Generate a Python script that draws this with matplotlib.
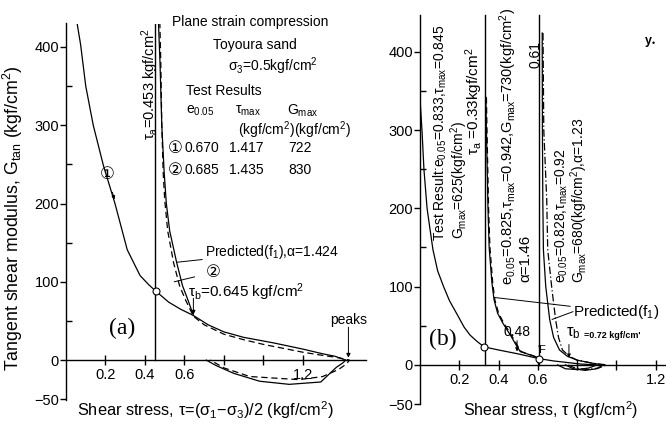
import matplotlib
matplotlib.use("Agg")
import matplotlib.pyplot as plt

plt.rcParams['font.family'] = ['Liberation Sans', 'DejaVu Sans']
plt.rcParams['mathtext.fontset'] = 'custom'
plt.rcParams['mathtext.rm'] = 'Liberation Sans'
plt.rcParams['mathtext.it'] = 'Liberation Sans'
plt.rcParams['mathtext.bf'] = 'Liberation Sans:bold'

# ---------------- Panel (a) data ----------------
tau_a_line = 0.453
tau_b_a = 0.645
a_test1_tau = [0.055, 0.074, 0.10, 0.138, 0.19, 0.248, 0.31, 0.375, 0.42, 0.455,
               0.52, 0.58, 0.645, 0.72, 0.80, 0.90, 1.05, 1.20, 1.30, 1.36, 1.417,
               1.40, 1.37, 1.29, 1.13, 0.98, 0.85, 0.76, 0.71]
a_test1_G = [432, 403, 350, 300, 248, 200, 141, 108, 96, 88,
             74, 65, 57, 45, 36, 29, 22, 14, 8, 5, 0,
             -4, -9, -28, -31, -27, -17, -7, 0]
a_test2_tau = [0.475, 0.480, 0.485, 0.492, 0.500, 0.515, 0.545, 0.575, 0.605, 0.645,
               0.70, 0.80, 0.90, 1.00, 1.10, 1.20, 1.30, 1.38, 1.435,
               1.42, 1.38, 1.30, 1.18, 0.93, 0.80, 0.73]
a_test2_G = [432, 380, 300, 240, 204, 165, 124, 95, 77, 56,
             45, 33, 26, 20, 15, 10, 6, 3, 0,
             -5, -12, -21, -25, -21, -10, 0]
a_pred_tau = [0.468, 0.476, 0.485, 0.497, 0.508, 0.525, 0.560, 0.590, 0.620, 0.645]
a_pred_G = [432, 380, 300, 240, 200, 165, 125, 95, 75, 57]
a_circle = (0.455, 88)

# ---------------- Panel (b) data ----------------
tau_a_b = 0.33
tau_f_b = 0.605
b_test_tau = [0.0, 0.01, 0.02, 0.036, 0.05, 0.066, 0.09, 0.12, 0.15, 0.19, 0.225, 0.255,
              0.29, 0.326, 0.40, 0.50, 0.605, 0.68, 0.75, 0.82, 0.90,
              0.86, 0.80, 0.74, 0.70]
b_test_G = [340, 300, 250, 200, 175, 147, 120, 100, 82, 64, 48, 38,
            30, 23, 19, 14, 8, 5, 3, 1, 0,
            -4, -6, -5, 0]
b_pred1_tau = [0.335, 0.338, 0.342, 0.346, 0.352, 0.366, 0.377, 0.395, 0.42, 0.46, 0.49, 0.51, 0.605]
b_pred1_G = [342, 300, 250, 200, 150, 105, 83, 66, 54, 38, 25, 17, 9]
b_test1_tau = [0.338, 0.341, 0.345, 0.349, 0.356, 0.370, 0.381, 0.40, 0.425, 0.465, 0.495, 0.515, 0.605]
b_test1_G = b_pred1_G
b_pred2_tau = [0.622, 0.623, 0.625, 0.628, 0.640, 0.660, 0.680, 0.710, 0.750, 0.80, 0.88, 0.93,
               0.90, 0.84, 0.78, 0.74]
b_pred2_G = [424, 300, 211, 147, 100, 58, 35, 19, 11, 6, 2, 0,
             -5, -7, -5, 0]
b_test2_tau = [0.626, 0.630, 0.645, 0.650, 0.670, 0.690, 0.705, 0.725, 0.760, 0.80, 0.88, 0.95,
               0.91, 0.85, 0.79, 0.75]
b_test2_G = [424, 300, 211, 147, 100, 58, 35, 19, 11, 6, 2, 0,
             -4, -6, -4, 0]
b_circles_tau = [0.326, 0.605]
b_circles_G = [23, 8]

xticks = [0.2, 0.4, 0.6, 0.8, 1.0, 1.2]
xticklabels = ['0.2', '0.4', '0.6', '', '', '1.2']
yticks_major = [-50, 0, 100, 200, 300, 400]
yticks_minor = [50, 150, 250, 350]

W, H = 666, 425
fig = plt.figure(figsize=(W / 100, H / 100), dpi=100)


def setup(ax, xlim, ylim):
    ax.set_xlim(*xlim)
    ax.set_ylim(*ylim)
    ax.patch.set_alpha(0)
    for s in ['top', 'right']:
        ax.spines[s].set_visible(False)
    ax.spines['bottom'].set_position(('data', 0))
    ax.spines['left'].set_linewidth(1.0)
    ax.spines['bottom'].set_linewidth(1.0)
    ax.set_xticks(xticks)
    ax.set_xticklabels(xticklabels)
    ax.set_yticks(yticks_major)
    ax.set_yticks(yticks_minor, minor=True)
    ax.tick_params(axis='x', direction='inout', length=7, width=1.0, labelsize=10.5, pad=2)
    ax.tick_params(axis='y', which='major', direction='out', length=4, width=1.0, labelsize=10.5, pad=1)
    ax.tick_params(axis='y', which='minor', direction='in', length=4, width=1.0)


arrow_kw = dict(arrowstyle='-|>', lw=0.7, color='black', mutation_scale=6, shrinkA=0, shrinkB=0)
line_kw = dict(arrowstyle='-', lw=0.7, color='black', shrinkA=0, shrinkB=0)

# ---------------- Panel (a) ----------------
axa = fig.add_axes([66 / W, 25 / H, 300 / W, 376.5 / H])
setup(axa, (0, 1.519), (-51, 430))
axa.plot([tau_a_line, tau_a_line], [0, 430], color='black', lw=1.0)
axa.plot(a_test1_tau, a_test1_G, color='black', lw=0.9)
axa.plot(a_test2_tau, a_test2_G, color='black', lw=0.9, ls=(0, (5, 3)))
axa.plot(a_pred_tau, a_pred_G, color='black', lw=0.9)
axa.plot([a_circle[0]], [a_circle[1]], 'o', ms=5, mfc='white', mec='black', mew=0.8)

fs = 10
axa.text(0.537, 432, 'Plane strain compression', fontsize=fs, ha='left', va='center')
axa.text(0.957, 402, 'Toyoura sand', fontsize=fs, ha='center', va='center')
axa.text(0.82, 376, 'σ$_3$=0.5kgf/cm$^2$', fontsize=fs, ha='left', va='center')
axa.text(0.608, 344, 'Test Results', fontsize=fs, ha='left', va='center')
axa.text(0.68, 318, 'e$_{0.05}$', fontsize=fs, ha='center', va='center')
axa.text(0.92, 318, 'τ$_{max}$', fontsize=fs, ha='center', va='center')
axa.text(1.20, 318, 'G$_{max}$', fontsize=fs, ha='center', va='center')
axa.text(0.871, 294, '(kgf/cm$^2$)(kgf/cm$^2$)', fontsize=fs, ha='left', va='center')
rows = [('①', '0.670', '1.417', '722', 271), ('②', '0.685', '1.435', '830', 243)]
for c, e, t, g, yy in rows:
    axa.text(0.552, yy, c, fontsize=12, ha='center', va='center', family=['DejaVu Sans'])
    axa.text(0.690, yy, e, fontsize=fs, ha='center', va='center')
    axa.text(0.911, yy, t, fontsize=fs, ha='center', va='center')
    axa.text(1.185, yy, g, fontsize=fs, ha='center', va='center')

axa.text(0.425, 352, 'τ$_a$=0.453 kgf/cm$^2$', fontsize=10.5, rotation=90, ha='center', va='center')
axa.annotate('①', xy=(0.245, 205), xytext=(0.21, 238), fontsize=12, ha='center', va='center',
             family=['DejaVu Sans'],
             arrowprops=dict(arrowstyle='-|>', lw=0.7, color='black', mutation_scale=5, shrinkA=5, shrinkB=0))
axa.annotate('Predicted(f$_1$),α=1.424', xy=(0.562, 125), xytext=(0.704, 138), fontsize=fs,
             ha='left', va='center', arrowprops=line_kw)
axa.annotate('②', xy=(0.548, 100), xytext=(0.744, 112), fontsize=12, ha='center', va='center',
             family=['DejaVu Sans'],
             arrowprops=dict(arrowstyle='-', lw=0.7, color='black', shrinkA=6, shrinkB=0))
axa.text(0.618, 87, 'τ$_b$=0.645 kgf/cm$^2$', fontsize=11, ha='left', va='center')
axa.annotate('', xy=(tau_b_a, 58), xytext=(tau_b_a, 79), arrowprops=arrow_kw)
axa.text(0.284, 41, '(a)', fontsize=17, ha='center', va='center', family=['Liberation Serif'])
axa.text(1.43, 51, 'peaks', fontsize=fs, ha='center', va='center', clip_on=False)
axa.annotate('', xy=(1.43, 3), xytext=(1.43, 42), arrowprops=arrow_kw)

# ---------------- Panel (b) ----------------
axb = fig.add_axes([420 / W, 21 / H, 246 / W, 389 / H])
setup(axb, (0, 1.252), (-50, 447))
axb.plot([tau_a_b, tau_a_b], [0, 447], color='black', lw=1.0, clip_on=False)
axb.plot([tau_f_b, tau_f_b], [0, 447], color='black', lw=1.0, clip_on=False)
axb.plot(b_test_tau, b_test_G, color='black', lw=0.9)
axb.plot(b_test1_tau, b_test1_G, color='black', lw=0.9, ls=(0, (5, 3)))
axb.plot(b_pred1_tau, b_pred1_G, color='black', lw=0.9)
axb.plot(b_pred2_tau, b_pred2_G, color='black', lw=0.9)
axb.plot(b_test2_tau, b_test2_G, color='black', lw=0.9, ls=(0, (6, 2, 1, 2)))
axb.plot(b_circles_tau, b_circles_G, 'o', ms=5, mfc='white', mec='black', mew=0.8)

axb.text(0.104, 296, 'Test Result:e$_{0.05}$=0.833,τ$_{max}$=0.845', fontsize=fs, rotation=90,
         ha='center', va='center')
axb.text(0.200, 236, 'G$_{max}$=625(kgf/cm$^2$)', fontsize=fs, rotation=90, ha='center', va='center')
axb.text(0.278, 268, 'τ$_a$ =0.33kgf/cm$^2$', fontsize=11, rotation=90, ha='center', va='bottom',
         clip_on=False)
axb.text(0.447, 102, 'e$_{0.05}$=0.825,τ$_{max}$=0.942,G$_{max}$=730(kgf/cm$^2$)', fontsize=10.5,
         rotation=90, ha='center', va='bottom', clip_on=False)
axb.text(0.537, 106, 'α=1.46', fontsize=11, rotation=90, ha='center', va='bottom')
axb.text(0.59, 397, '0.61', fontsize=fs, rotation=90, ha='center', va='center')
axb.text(0.722, 105, 'e$_{0.05}$=0.828,τ$_{max}$=0.92', fontsize=fs, rotation=90, ha='center',
         va='bottom')
axb.text(0.812, 105, 'G$_{max}$=680(kgf/cm$^2$),α=1.23', fontsize=fs, rotation=90, ha='center',
         va='bottom')
axb.annotate('Predicted(f$_1$)', xy=(0.382, 86), xytext=(0.779, 68), fontsize=11, ha='left',
             va='center', annotation_clip=False, arrowprops=line_kw)
axb.annotate('', xy=(0.672, 58), xytext=(0.779, 68), arrowprops=line_kw)
axb.text(0.494, 42, '0.48', fontsize=fs, ha='center', va='center')
axb.annotate('', xy=(0.494, 17), xytext=(0.494, 31),
             arrowprops=dict(arrowstyle='-|>', lw=0.7, color='black', mutation_scale=5, shrinkA=0, shrinkB=0))
axb.text(0.62, 19, "'F", fontsize=8, ha='center', va='center')
axb.text(0.745, 40, 'τ$_b$', fontsize=12, ha='left', va='center')
axb.text(0.835, 38, '=0.72 kgf/cm\'', fontsize=6.5, ha='left', va='center', weight='bold')
axb.annotate('', xy=(0.758, 9), xytext=(0.758, 26),
             arrowprops=dict(arrowstyle='-|>', lw=0.7, color='black', mutation_scale=5, shrinkA=0, shrinkB=0))
axb.text(0.117, 32, '(b)', fontsize=17, ha='center', va='center', family=['Liberation Serif'])

# ---------------- Axis titles ----------------
fig.text(206 / W, 1 - 410 / H, 'Shear stress, τ=(σ$_1$−σ$_3$)/2 (kgf/cm$^2$)', fontsize=11.8,
         ha='center', va='center')
fig.text(551 / W, 1 - 410 / H, 'Shear stress, τ (kgf/cm$^2$)', fontsize=11.5, ha='center', va='center')
fig.text(13 / W, 1 - 218 / H, 'Tangent shear modulus, G$_{tan}$ (kgf/cm$^2$)', fontsize=12.8,
         rotation=90, ha='center', va='center')
fig.text(650 / W, 1 - 42 / H, 'y$_•$', fontsize=9, weight='bold', ha='center', va='center')

fig.savefig('out.png', dpi=100)
